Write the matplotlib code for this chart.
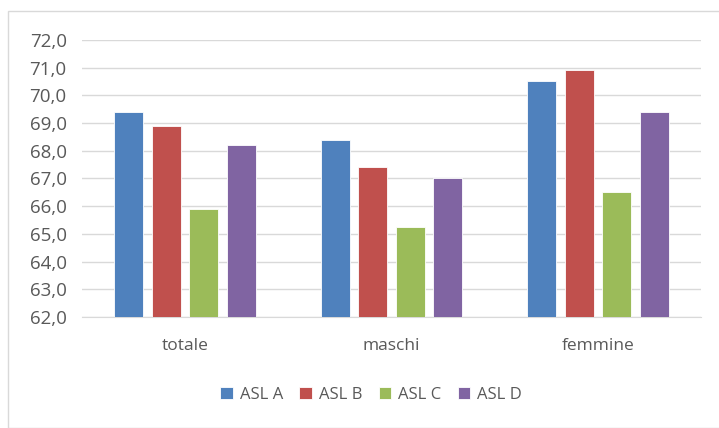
import matplotlib
matplotlib.use("Agg")
import matplotlib.pyplot as plt
import numpy as np
from matplotlib.patches import Rectangle
from matplotlib.ticker import FuncFormatter, MultipleLocator

# speranza di vita per ASL e sesso
categorie = ["totale", "maschi", "femmine"]
asl = ["ASL A", "ASL B", "ASL C", "ASL D"]
asl_a = [69.4, 68.4, 70.5]
asl_b = [68.9, 67.4, 70.9]
asl_c = [65.9, 65.26, 66.5]
asl_d = [68.2, 67.0, 69.4]
colori = ["#4F81BD", "#C0504D", "#9BBB59", "#8064A2"]

plt.rcParams['font.family'] = ['Open Sans', 'DejaVu Sans']
testo = "#595959"

fig = plt.figure(figsize=(7.19, 4.28), dpi=100)
ax = fig.add_axes([0.114, 0.259, 0.861, 0.648])

# cornice dell'area grafico
fig.patches.append(Rectangle((8 / 719, 0), 1.0, 1 - 11 / 428, transform=fig.transFigure,
                             fill=False, edgecolor="#d9d9d9", linewidth=1.0))

x = np.arange(len(categorie))
larghezza = 0.14
passo = 0.182
for i, (nome, valori) in enumerate(zip(asl, [asl_a, asl_b, asl_c, asl_d])):
    ax.bar(x + (i - 1.5) * passo, np.array(valori) - 62, bottom=62, width=larghezza,
           color=colori[i], edgecolor="white", linewidth=0.6, label=nome, zorder=3)

ax.set_xlim(-0.5, 2.5)
ax.set_ylim(62, 72)
ax.yaxis.set_major_locator(MultipleLocator(1))
ax.yaxis.set_major_formatter(FuncFormatter(lambda v, p: f"{v:.1f}".replace(".", ",")))
ax.grid(axis="y", color="#d9d9d9", linewidth=1.0, zorder=0)
ax.set_xticks(x)
ax.set_xticklabels(categorie)
ax.tick_params(axis="both", length=0, colors=testo)
ax.tick_params(axis="x", pad=15, labelsize=12.5)
ax.tick_params(axis="y", pad=11, labelsize=13.5)
for lato in ["top", "right", "left"]:
    ax.spines[lato].set_visible(False)
ax.spines["bottom"].set_color("#d9d9d9")

ax.legend(loc="center", bbox_to_anchor=(0.516, 0.078), bbox_transform=fig.transFigure,
          ncol=4, frameon=False, fontsize=12, labelcolor=testo,
          handlelength=0.75, handleheight=0.75, handletextpad=0.4, columnspacing=1.0)

plt.savefig("out.png", dpi=100)
